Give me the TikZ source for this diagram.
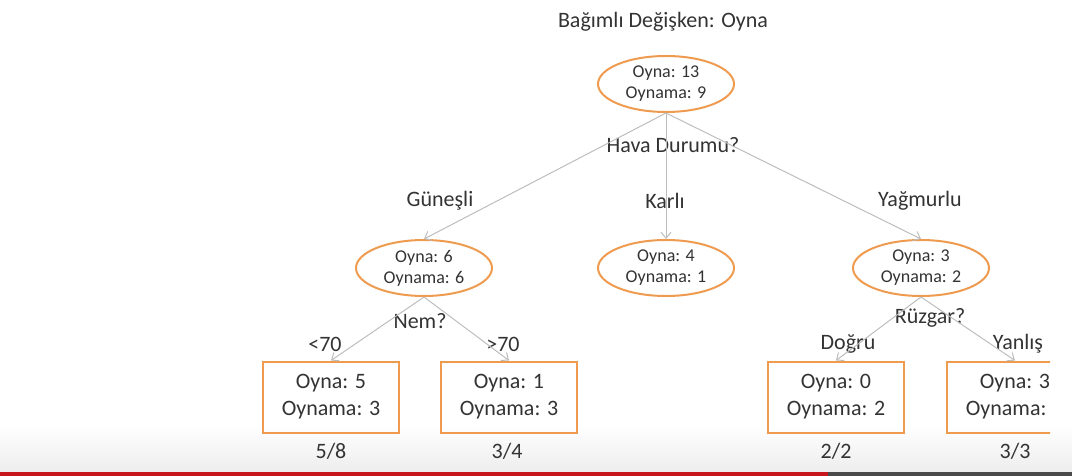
\documentclass[tikz,border=0pt]{standalone}
\usepackage{fontspec}
\setmainfont{Carlito}
\usetikzlibrary{arrows.meta,shapes.geometric}
\definecolor{treeorange}{HTML}{EE9B50}
\definecolor{treegrey}{HTML}{BDBDBD}
\definecolor{treetext}{HTML}{333333}
\definecolor{barred}{HTML}{C8161D}
\definecolor{bargrey}{HTML}{4A4A4A}
\tikzset{
    split/.style={ellipse,draw=treeorange,line width=1pt,minimum width=68pt,minimum height=28pt,
        inner sep=0pt,align=center,text=treetext,font=\fontsize{9}{10.5}\selectfont},
    leaf/.style={rectangle,draw=treeorange,line width=1pt,minimum width=68pt,minimum height=35.5pt,
        inner sep=0pt,align=center,text=treetext,font=\fontsize{11}{13.5}\selectfont},
    lbl/.style={inner sep=1pt,text=treetext,font=\fontsize{11}{13}\selectfont},
    every edge/.style={draw=treegrey,line width=0.5pt,-{Straight Barb[length=3pt,width=5pt]}},
}

\begin{document}
\begin{tikzpicture}[x=0.5pt,y=-0.5pt]
    \useasboundingbox (0,0) rectangle (1072,476);
    \fill[top color=white,bottom color=black!7] (0,425) rectangle (1072,472);

    \begin{scope}
    \clip (0,0) rectangle (1050,472);
    \node[lbl] (title) at (663,22) {Bağımlı Değişken: Oyna};
    \node[split] (root) at (666,84) {Oyna: 13\\Oynama: 9};
    \node[lbl] (weather) at (673,145) {Hava Durumu?};

    \node[split] (sunny) at (424,268) {Oyna: 6\\Oynama: 6};
    \node[split] (snowy) at (666,268) {Oyna: 4\\Oynama: 1};
    \node[split] (rainy) at (921,268) {Oyna: 3\\Oynama: 2};
    \node[lbl] at (440,201) {Güneşli};
    \node[lbl] at (665,201) {Karlı};
    \node[lbl] at (920,201) {Yağmurlu};

    \node[lbl] (humid) at (420,321) {Nem?};
    \node[lbl] at (325,344) {<70};
    \node[lbl] at (503,344) {>70};
    \node[lbl] (wind) at (930,318) {Rüzgar?};
    \node[lbl] at (848,344) {Doğru};
    \node[lbl] at (1018,344) {Yanlış};

    \node[leaf] (low) at (331,397) {Oyna: 5\\Oynama: 3};
    \node[leaf] (high) at (509,397) {Oyna: 1\\Oynama: 3};
    \node[leaf] (windy) at (836,397) {Oyna: 0\\Oynama: 2};
    \node[leaf] (calm) at (1015,397) {Oyna: 3\\Oynama: 3};

    \node[lbl] at (331,451) {5/8};
    \node[lbl] at (507,451) {3/4};
    \node[lbl] at (836,451) {2/2};
    \node[lbl] at (1015,451) {3/3};

    \path
    (root.south) edge (sunny.north)
    (root.south) edge (snowy.north)
    (root.south) edge (rainy.north)
    (sunny.south) edge (low.north)
    (sunny.south) edge (high.north)
    (rainy.south) edge (windy.north)
    (rainy.south) edge (calm.north);
    \end{scope}

    % progress bar
    \fill[bargrey] (0,472) rectangle (1072,476);
    \fill[barred] (0,472) rectangle (828,476);
\end{tikzpicture}
\end{document}
